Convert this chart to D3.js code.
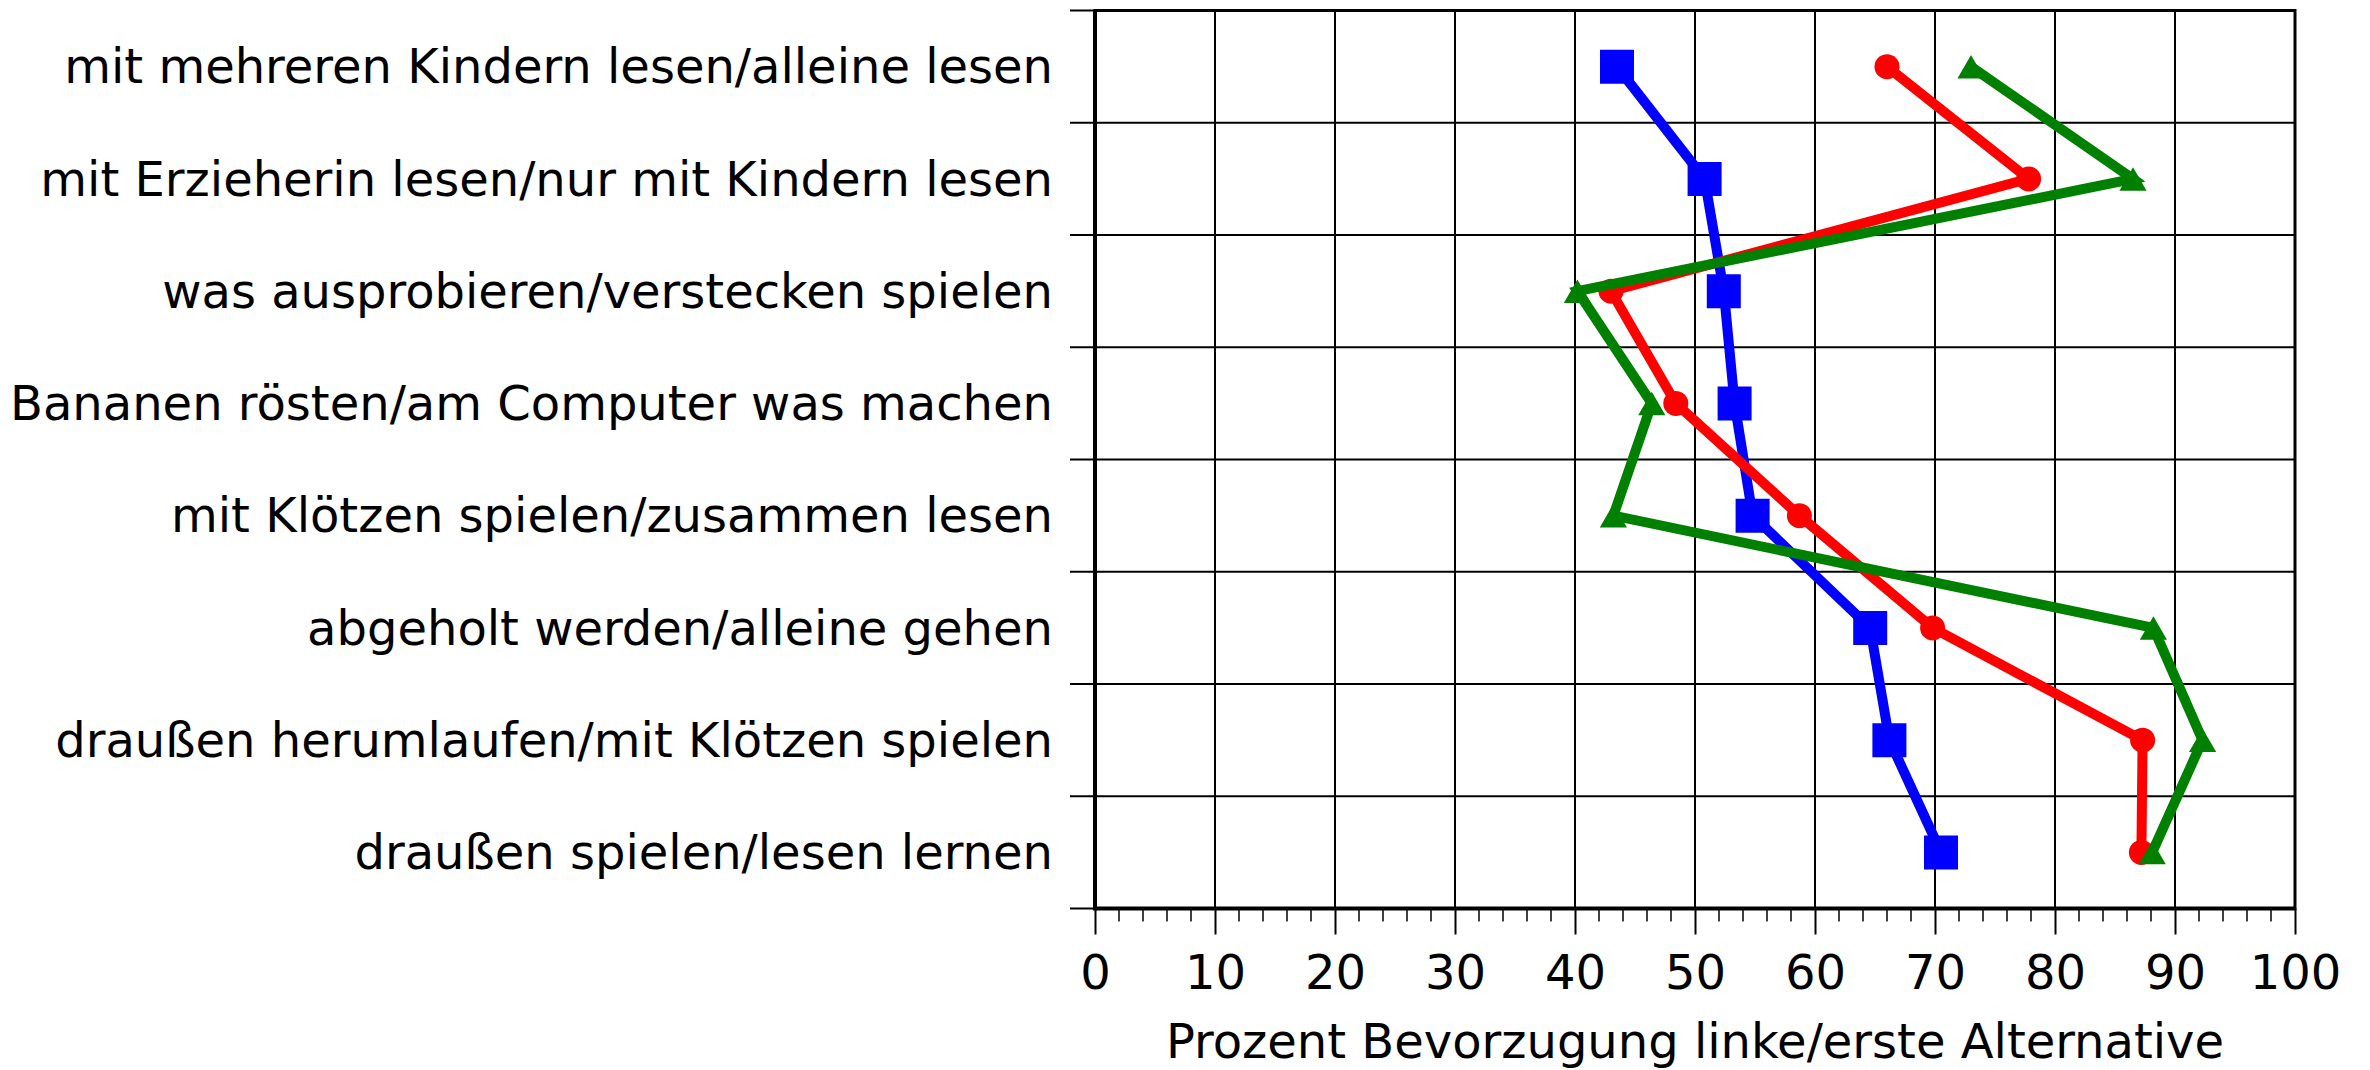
<!DOCTYPE html>
<html lang="de">
<head>
    <meta charset="UTF-8">
    <title>Prozent Bevorzugung</title>
    <script src="https://d3js.org/d3.v7.min.js"></script>
    <style>
        body { margin: 0; background: #fff; }
        text { font-family: "DejaVu Sans", sans-serif; font-size: 48px; fill: #000; }
    </style>
</head>
<body>
    <script>
        const categories = [
            "mit mehreren Kindern lesen/alleine lesen",
            "mit Erzieherin lesen/nur mit Kindern lesen",
            "was ausprobieren/verstecken spielen",
            "Bananen rösten/am Computer was machen",
            "mit Klötzen spielen/zusammen lesen",
            "abgeholt werden/alleine gehen",
            "draußen herumlaufen/mit Klötzen spielen",
            "draußen spielen/lesen lernen"
        ];
        const blueValues  = [43.5, 50.8, 52.4, 53.3, 54.8, 64.6, 66.2, 70.5];
        const redValues   = [66.0, 77.8, 43.0, 48.4, 58.7, 69.8, 87.3, 87.2];
        const greenValues = [73.0, 86.5, 40.2, 46.4, 43.2, 88.2, 92.3, 88.1];
        const xTicks = [0, 10, 20, 30, 40, 50, 60, 70, 80, 90, 100];
        const xTitle = "Prozent Bevorzugung linke/erste Alternative";

        const width = 2370, height = 1070;
        const plotLeft = 1095, plotRight = 2295, plotTop = 10.5, plotBottom = 908.5;

        const svg = d3.select("body").append("svg")
            .attr("width", width)
            .attr("height", height);

        const x = d3.scaleLinear().domain([0, 100]).range([plotLeft, plotRight]);
        const y = d3.scaleBand().domain(categories).range([plotTop, plotBottom]).padding(0);

        // grid
        const grid = svg.append("g");
        grid.selectAll("line.v")
            .data(xTicks)
            .enter().append("line")
            .attr("x1", d => x(d)).attr("x2", d => x(d))
            .attr("y1", plotTop).attr("y2", plotBottom)
            .attr("stroke", "#000").attr("stroke-width", 2);
        const bounds = categories.map(c => y(c)).concat([plotBottom]);
        grid.selectAll("line.h")
            .data(bounds)
            .enter().append("line")
            .attr("x1", plotLeft - 25).attr("x2", plotRight)
            .attr("y1", d => d).attr("y2", d => d)
            .attr("stroke", "#000").attr("stroke-width", 2);

        // frame
        svg.append("rect")
            .attr("x", plotLeft).attr("y", plotTop)
            .attr("width", plotRight - plotLeft).attr("height", plotBottom - plotTop)
            .attr("fill", "none").attr("stroke", "#000").attr("stroke-width", 3);
        svg.append("line")
            .attr("x1", plotLeft).attr("x2", plotLeft).attr("y1", plotTop - 1).attr("y2", plotBottom + 2)
            .attr("stroke", "#000").attr("stroke-width", 4);
        svg.append("line")
            .attr("x1", plotLeft).attr("x2", plotRight + 1).attr("y1", plotBottom).attr("y2", plotBottom)
            .attr("stroke", "#000").attr("stroke-width", 4);

        // x axis
        const xAxis = d3.axisBottom(x)
            .tickValues(xTicks)
            .tickSize(26)
            .tickPadding(20)
            .tickFormat(d3.format("d"));
        const gx = svg.append("g")
            .attr("transform", `translate(0,${plotBottom})`)
            .call(xAxis);
        gx.select(".domain").remove();
        gx.selectAll(".tick line").attr("stroke-width", 2);
        gx.selectAll(".tick text")
            .attr("font-family", "DejaVu Sans")
            .attr("font-size", 48)
            .attr("fill", "#000");

        const minorTicks = d3.range(0, 101, 2).filter(d => d % 10 !== 0);
        svg.append("g").selectAll("line")
            .data(minorTicks)
            .enter().append("line")
            .attr("x1", d => x(d)).attr("x2", d => x(d))
            .attr("y1", plotBottom).attr("y2", plotBottom + 13)
            .attr("stroke", "#000").attr("stroke-width", 1.5);

        svg.append("text")
            .attr("x", (plotLeft + plotRight) / 2)
            .attr("y", 1058)
            .attr("text-anchor", "middle")
            .text(xTitle);

        // y labels
        svg.append("g").selectAll("text")
            .data(categories)
            .enter().append("text")
            .attr("x", 1053)
            .attr("y", d => y(d) + y.bandwidth() / 2)
            .attr("dy", "0.35em")
            .attr("text-anchor", "end")
            .text(d => d);

        // series (triangle nudged down so its box, not centroid, sits on the point)
        const series = [
            { values: blueValues, color: "#0000ff", symbol: d3.symbolSquare, size: 34 * 34, dy: 0 },
            { values: redValues, color: "#ff0000", symbol: d3.symbolCircle, size: Math.PI * 12.5 * 12.5, dy: 0 },
            { values: greenValues, color: "#008000", symbol: d3.symbolTriangle, size: 320, dy: 4 }
        ];

        const line = d3.line()
            .x(d => x(d[0]))
            .y(d => y(d[1]) + y.bandwidth() / 2);

        series.forEach(s => {
            const pts = s.values.map((v, i) => [v, categories[i]]);
            const g = svg.append("g");
            g.append("path")
                .datum(pts)
                .attr("d", line)
                .attr("fill", "none")
                .attr("stroke", s.color)
                .attr("stroke-width", 10);
            g.selectAll("path.m")
                .data(pts)
                .enter().append("path")
                .attr("class", "m")
                .attr("transform", d => `translate(${x(d[0])},${y(d[1]) + y.bandwidth() / 2 + s.dy})`)
                .attr("d", d3.symbol().type(s.symbol).size(s.size))
                .attr("fill", s.color);
        });
    </script>
</body>
</html>
